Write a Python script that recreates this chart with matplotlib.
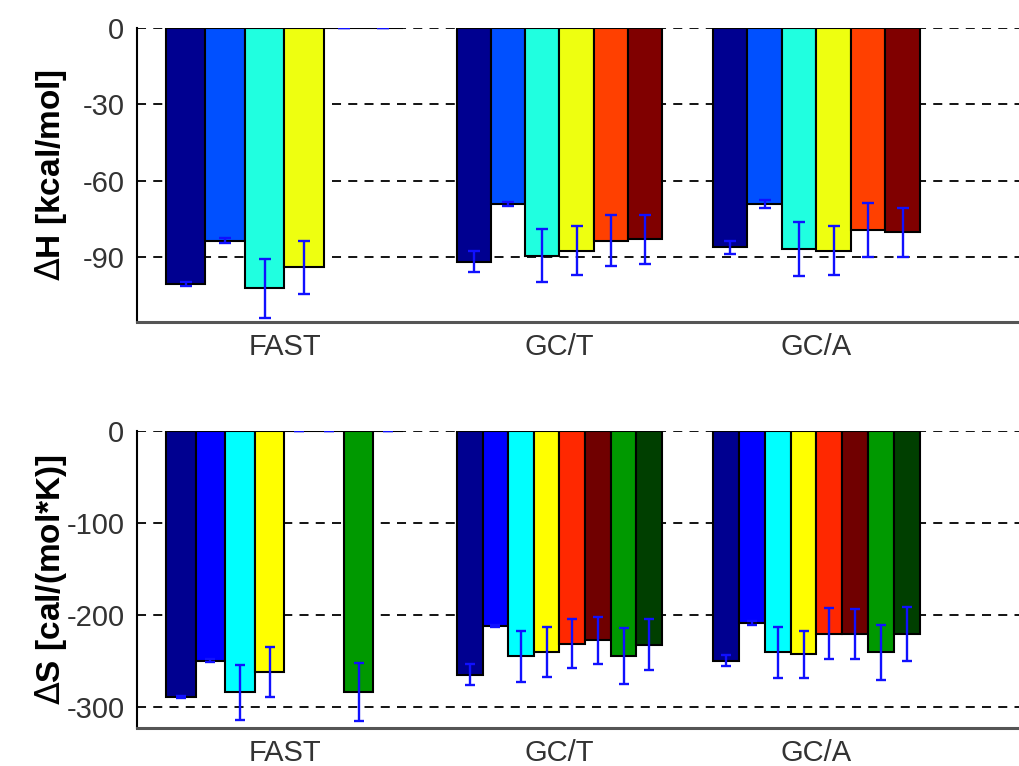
import matplotlib.pyplot as plt
import numpy as np

plt.rcParams['font.family'] = ['Liberation Sans', 'DejaVu Sans']

groups = ["FAST", "GC/T", "GC/A"]

# dH [kcal/mol], 6 series per group
dH = np.array([
    [-100.7, -83.6, -102.3, -94.1, 0.0, 0.0],
    [-91.9, -69.2, -89.5, -87.6, -83.6, -83.0],
    [-86.2, -69.2, -86.9, -87.6, -79.4, -80.3],
])
dH_err = np.array([
    [0.7, 1.0, 11.6, 10.5, 0.0, 0.0],
    [4.1, 0.8, 10.5, 9.6, 10.1, 9.6],
    [2.5, 1.6, 10.5, 9.6, 10.5, 9.6],
])

# dS [cal/(mol*K)], 8 series per group
dS = np.array([
    [-289.5, -249.6, -284.0, -262.0, 0.0, 0.0, -284.0, 0.0],
    [-264.9, -212.0, -245.0, -240.4, -231.5, -227.5, -244.8, -232.5],
    [-249.6, -209.1, -240.6, -242.8, -220.7, -220.7, -240.6, -220.7],
])
dS_err = np.array([
    [1.0, 2.0, 29.9, 27.5, 0.0, 0.0, 31.9, 0.0],
    [11.2, 1.5, 27.7, 26.8, 26.6, 25.5, 30.1, 27.9],
    [5.8, 2.0, 27.9, 25.7, 27.7, 26.8, 29.9, 29.0],
])

colors_H = ["#000090", "#0050FF", "#20FFE0", "#EEFF10", "#FF4000", "#800000"]
colors_S = ["#000090", "#0000FF", "#00FFFF", "#FFFF00", "#FF2800", "#700000",
            "#009900", "#003F00"]

# layout (pixel-like x units)
centers = [284.5, 559.5, 816.5]
widths = [237, 205, 207]

W, H = 1020, 766
fig = plt.figure(figsize=(W / 100, H / 100), dpi=100)
ax1 = fig.add_axes([137 / W, 1 - 322 / H, (1030 - 137) / W, (322 - 28) / H])
ax2 = fig.add_axes([137 / W, 1 - 728 / H, (1030 - 137) / W, (728 - 431) / H])


def draw(ax, vals, errs, colors, capsize, ylim, yticks):
    n = vals.shape[1]
    for g in range(len(groups)):
        bw = widths[g] / n
        x0 = centers[g] - widths[g] / 2 + bw / 2
        xs = x0 + bw * np.arange(n)
        ax.bar(xs, vals[g], width=bw, color=colors, edgecolor='black',
               linewidth=1.5, zorder=2)
        ax.errorbar(xs, vals[g], yerr=errs[g], fmt='none', ecolor='#1010FF',
                    elinewidth=1.7, capsize=capsize, capthick=1.7, zorder=3)
    ax.set_xlim(137, 1030)
    ax.set_ylim(*ylim)
    ax.set_yticks(yticks)
    ax.set_yticklabels([str(t) for t in yticks])
    ax.set_xticks(centers)
    ax.set_xticklabels(groups)
    ax.tick_params(length=0, labelsize=21, colors='#333333')
    ax.tick_params(axis='y', pad=9)
    ax.tick_params(axis='x', pad=8)
    for t in yticks:
        ax.axhline(t, color='black', linestyle=(0, (5, 4)), linewidth=1.3,
                   zorder=1)
    ax.spines['top'].set_visible(False)
    ax.spines['right'].set_visible(False)
    ax.spines['left'].set_linewidth(1.5)
    ax.spines['bottom'].set_linewidth(2.2)
    ax.spines['bottom'].set_color('#555555')


draw(ax1, dH, dH_err, colors_H, 4.5, (-115.6, 0), [0, -30, -60, -90])
draw(ax2, dS, dS_err, colors_S, 3.8, (-323, 0), [0, -100, -200, -300])

fig.text(51 / W, 1 - 175 / H, r"$\Delta$H [kcal/mol]", rotation=90,
         ha='center', va='center', fontsize=24, fontweight='bold')
fig.text(51 / W, 1 - 580 / H, r"$\Delta$S [cal/(mol*K)]", rotation=90,
         ha='center', va='center', fontsize=24, fontweight='bold')

plt.savefig("out.png", dpi=100)
